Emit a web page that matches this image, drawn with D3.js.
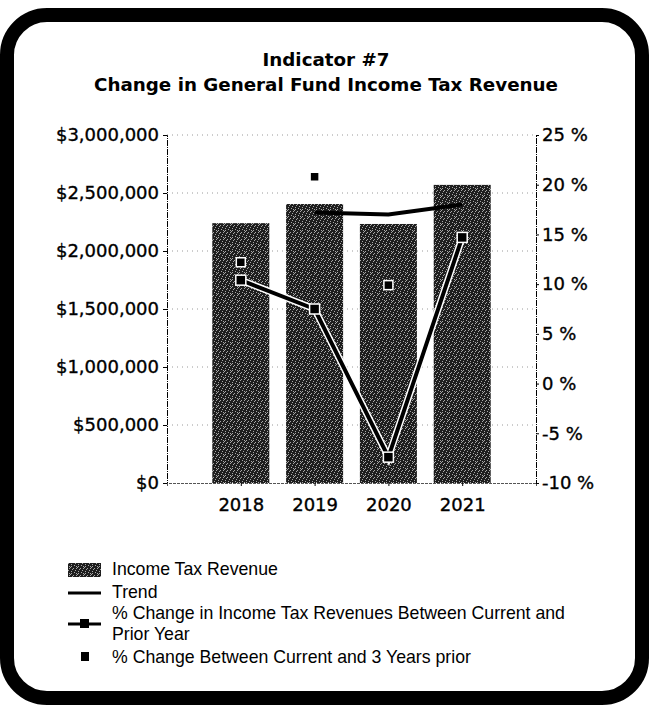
<!DOCTYPE html>
<html>
<head>
<meta charset="utf-8">
<script src="https://cdn.jsdelivr.net/npm/d3@7"></script>
<style>
  body { margin: 0; background: #fff; }
  svg { display: block; }
</style>
</head>
<body>
<div id="chart"></div>
<script>
var years = ["2018", "2019", "2020", "2021"]
var revenue = [2240000, 2405000, 2233000, 2570000]
var trend = [null, 17.2, 17.0, 18.0]
var pctPrior = [10.4, 7.5, -7.4, 14.7]
var pct3Years = [12.2, 20.8, 9.9, 14.7]
var leftTicks = [0, 500000, 1000000, 1500000, 2000000, 2500000, 3000000]
var rightTicks = [-10, -5, 0, 5, 10, 15, 20, 25]

var width = 649, height = 707
var plot = { left: 167, right: 536, top: 135, bottom: 483 }

var svg = d3.select("#chart").append("svg")
    .attr("width", width)
    .attr("height", height)

// scanned-looking bar texture
var defs = svg.append("defs")
var pat = defs.append("pattern")
    .attr("id", "speckle")
    .attr("patternUnits", "userSpaceOnUse")
    .attr("width", 7).attr("height", 7)
pat.append("rect").attr("width", 7).attr("height", 7).attr("fill", "#1e1e1e")
var specks = [[0,0],[3,1],[5,3],[1,4],[4,5],[6,6],[2,2],[6,1],[1,6]]
specks.forEach(function(p) {
    pat.append("rect").attr("x", p[0]).attr("y", p[1]).attr("width", 1).attr("height", 1).attr("fill", "#a8a8a8")
})

// frame
svg.append("rect")
    .attr("x", 7).attr("y", 15)
    .attr("width", 635).attr("height", 683)
    .attr("rx", 40).attr("ry", 40)
    .attr("fill", "#fff")
    .attr("stroke", "#000")
    .attr("stroke-width", 14)

// title
var title = svg.append("g")
    .attr("font-family", "DejaVu Sans")
    .attr("font-weight", "bold")
    .attr("font-size", 18.3)
    .attr("text-anchor", "middle")
title.append("text").attr("x", 326).attr("y", 66).text("Indicator #7")
title.append("text").attr("x", 326).attr("y", 91).text("Change in General Fund Income Tax Revenue")

var x = d3.scalePoint().domain(years).range([plot.left, plot.right]).padding(1)
var yL = d3.scaleLinear().domain([0, 3000000]).range([plot.bottom, plot.top])
var yR = d3.scaleLinear().domain([-10, 25]).range([plot.bottom, plot.top])
var barW = 57

// gridlines
svg.append("g").selectAll("line")
    .data(leftTicks.slice(1))
    .enter().append("line")
    .attr("x1", plot.left).attr("x2", plot.right)
    .attr("y1", function(d) { return yL(d) }).attr("y2", function(d) { return yL(d) })
    .attr("stroke", "#9a9a9a")
    .attr("stroke-dasharray", "1,4")

// bars
svg.append("g").selectAll("rect")
    .data(revenue)
    .enter().append("rect")
    .attr("x", function(d, i) { return x(years[i]) - barW / 2 })
    .attr("y", function(d) { return yL(d) })
    .attr("width", barW)
    .attr("height", function(d) { return yL(0) - yL(d) })
    .attr("fill", "url(#speckle)")

// axes
var fmt = function(d) { return "$" + d3.format(",")(d) }
var gL = svg.append("g")
    .attr("transform", "translate(" + plot.left + ",0)")
    .call(d3.axisLeft(yL).tickValues(leftTicks).tickFormat(fmt).tickSize(4).tickPadding(4))
var gR = svg.append("g")
    .attr("transform", "translate(" + plot.right + ",0)")
    .call(d3.axisRight(yR).tickValues(rightTicks).tickFormat(function(d) { return d + " %" }).tickSize(3).tickPadding(3))
var gB = svg.append("g")
    .attr("transform", "translate(0," + plot.bottom + ")")
    .call(d3.axisBottom(x).tickSize(3).tickPadding(12))

// scanned text looks heavier than a plain regular weight
;[gL, gR, gB].forEach(function(g) {
    g.selectAll("text")
        .attr("font-family", "DejaVu Sans").attr("font-size", 18)
        .attr("fill", "#000").attr("stroke", "#000").attr("stroke-width", 0.35)
})
gL.select(".domain").attr("stroke-dasharray", "6,1,1,1")
gR.select(".domain").attr("stroke-dasharray", "6,1,1,1")
gB.select(".domain").attr("stroke-dasharray", "3,1").attr("stroke", "#555")

// % change prior year line (with white casing)
var lineFn = d3.line()
    .defined(function(d) { return d != null })
    .x(function(d, i) { return x(years[i]) })
    .y(function(d) { return yR(d) })

svg.append("path").datum(pctPrior).attr("d", lineFn)
    .attr("fill", "none").attr("stroke", "#fff").attr("stroke-width", 7)
svg.append("path").datum(pctPrior).attr("d", lineFn)
    .attr("fill", "none").attr("stroke", "#000").attr("stroke-width", 4)

// trend line
svg.append("path").datum(trend).attr("d", lineFn)
    .attr("fill", "none").attr("stroke", "#000").attr("stroke-width", 4)

// 3-year squares
var sq = 9
svg.append("g").selectAll("rect")
    .data(pct3Years)
    .enter().append("rect")
    .attr("x", function(d, i) { return x(years[i]) - sq / 2 })
    .attr("y", function(d) { return yR(d) - sq / 2 })
    .attr("width", sq).attr("height", sq)
    .attr("fill", "#000").attr("stroke", "#fff").attr("stroke-width", 1.5)

// prior-year markers
svg.append("g").selectAll("rect")
    .data(pctPrior)
    .enter().append("rect")
    .attr("x", function(d, i) { return x(years[i]) - 5 })
    .attr("y", function(d) { return yR(d) - 5 })
    .attr("width", 10).attr("height", 10)
    .attr("fill", "#000").attr("stroke", "#fff").attr("stroke-width", 1.5)

// legend
var lg = svg.append("g")
    .attr("font-family", "Liberation Sans")
    .attr("font-size", 17.7)
    .attr("fill", "#000")
lg.append("rect").attr("x", 68).attr("y", 563).attr("width", 33).attr("height", 14).attr("fill", "url(#speckle)")
lg.append("text").attr("x", 112).attr("y", 575).text("Income Tax Revenue")
lg.append("line").attr("x1", 68).attr("x2", 101).attr("y1", 593).attr("y2", 593).attr("stroke", "#000").attr("stroke-width", 3)
lg.append("text").attr("x", 112).attr("y", 598).text("Trend")
lg.append("line").attr("x1", 68).attr("x2", 101).attr("y1", 624).attr("y2", 624).attr("stroke", "#000").attr("stroke-width", 3)
lg.append("rect").attr("x", 80).attr("y", 619).attr("width", 9).attr("height", 9).attr("fill", "#000")
lg.append("text").attr("x", 112).attr("y", 619).text("% Change in Income Tax Revenues Between Current and")
lg.append("text").attr("x", 112).attr("y", 640).text("Prior Year")
lg.append("rect").attr("x", 81).attr("y", 652).attr("width", 8).attr("height", 9).attr("fill", "#000")
lg.append("text").attr("x", 112).attr("y", 663).text("% Change Between Current and 3 Years prior")
</script>
</body>
</html>
